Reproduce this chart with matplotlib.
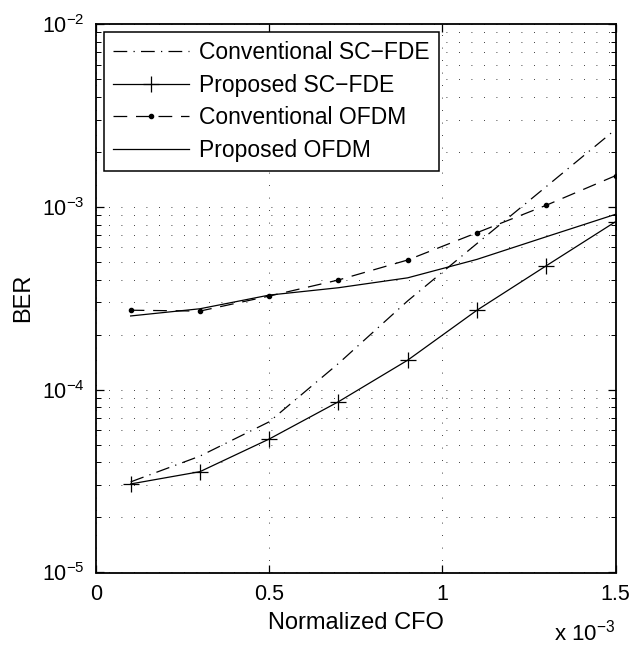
import matplotlib
matplotlib.use("Agg")
import matplotlib.pyplot as plt
from matplotlib.ticker import FixedLocator, FuncFormatter, LogLocator, NullLocator

plt.rcParams['font.family'] = ['Liberation Sans', 'DejaVu Sans']
plt.rcParams['mathtext.default'] = 'regular'
plt.rcParams['font.size'] = 15

# %% data (CFO normalized, BER)
cfo = [0.1e-3, 0.3e-3, 0.5e-3, 0.7e-3, 0.9e-3, 1.1e-3, 1.3e-3, 1.5e-3]
ber_conv_sc = [3.13e-5, 4.33e-5, 6.67e-5, 1.39e-4, 3.06e-4, 6.3e-4, 1.29e-3, 2.65e-3]
ber_prop_sc = [3.05e-5, 3.56e-5, 5.37e-5, 8.59e-5, 1.45e-4, 2.72e-4, 4.76e-4, 8.29e-4]
ber_conv_ofdm = [2.72e-4, 2.69e-4, 3.25e-4, 3.98e-4, 5.12e-4, 7.22e-4, 1.02e-3, 1.48e-3]
ber_prop_ofdm = [2.53e-4, 2.77e-4, 3.29e-4, 3.61e-4, 4.09e-4, 5.16e-4, 6.86e-4, 9.1e-4]

x_ticks = [0, 0.5e-3, 1.0e-3, 1.5e-3]
labels = ["Conventional SC\u2212FDE", "Proposed SC\u2212FDE",
          "Conventional OFDM", "Proposed OFDM"]

# %% plot
fig = plt.figure(figsize=(6.32, 6.46), dpi=100)
ax = fig.add_axes([96 / 632, (646 - 572.5) / 646, 519.5 / 632, 548.5 / 646])

ax.plot(cfo, ber_conv_sc, color="k", lw=0.9, dashes=[11, 5, 1, 5], label=labels[0])
ax.plot(cfo, ber_prop_sc, color="k", lw=0.9, marker="+", markersize=11,
        markeredgewidth=0.9, label=labels[1])
ax.plot(cfo, ber_conv_ofdm, color="k", lw=0.9, dashes=[11, 7], marker=".",
        markersize=6, label=labels[2])
ax.plot(cfo, ber_prop_ofdm, color="k", lw=0.9, label=labels[3])

ax.set_yscale("log")
ax.set_xlim(0, 1.5e-3)
ax.set_ylim(1e-5, 1e-2)
ax.xaxis.set_major_locator(FixedLocator(x_ticks))
ax.xaxis.set_major_formatter(FuncFormatter(lambda v, p: "%g" % (v * 1e3)))
ax.xaxis.set_minor_locator(NullLocator())
ax.yaxis.set_major_locator(LogLocator(base=10, numticks=10))
ax.yaxis.set_minor_locator(LogLocator(base=10, subs=range(2, 10), numticks=10))

ax.tick_params(which="both", direction="in", top=True, right=True, labelsize=15.5)
ax.tick_params(which="major", length=6, width=0.9, pad=8)
ax.tick_params(which="minor", length=3.5, width=0.7)
for s in ax.spines.values():
    s.set_linewidth(1.3)

ax.grid(True, which="major", axis="x", color="k", linestyle=(0, (1, 14)), linewidth=0.6)
ax.grid(True, which="both", axis="y", color="k", linestyle=(0, (1, 14)), linewidth=0.6)

ax.set_xlabel("Normalized CFO", fontsize=17, labelpad=5)
ax.set_ylabel("BER", fontsize=17, labelpad=6)
fig.text(615 / 632, 1 - 641 / 646, r"x $10^{-3}$", ha="right", va="baseline", fontsize=16)

leg = ax.legend(loc="upper left", bbox_to_anchor=(0.0, 1.0), borderaxespad=0.35,
                handlelength=3.3, handletextpad=0.45, labelspacing=0.42,
                borderpad=0.4, fontsize=16.5, fancybox=False, framealpha=1,
                edgecolor="k")
leg.get_frame().set_linewidth(1.1)

fig.savefig("out.png", dpi=100)
